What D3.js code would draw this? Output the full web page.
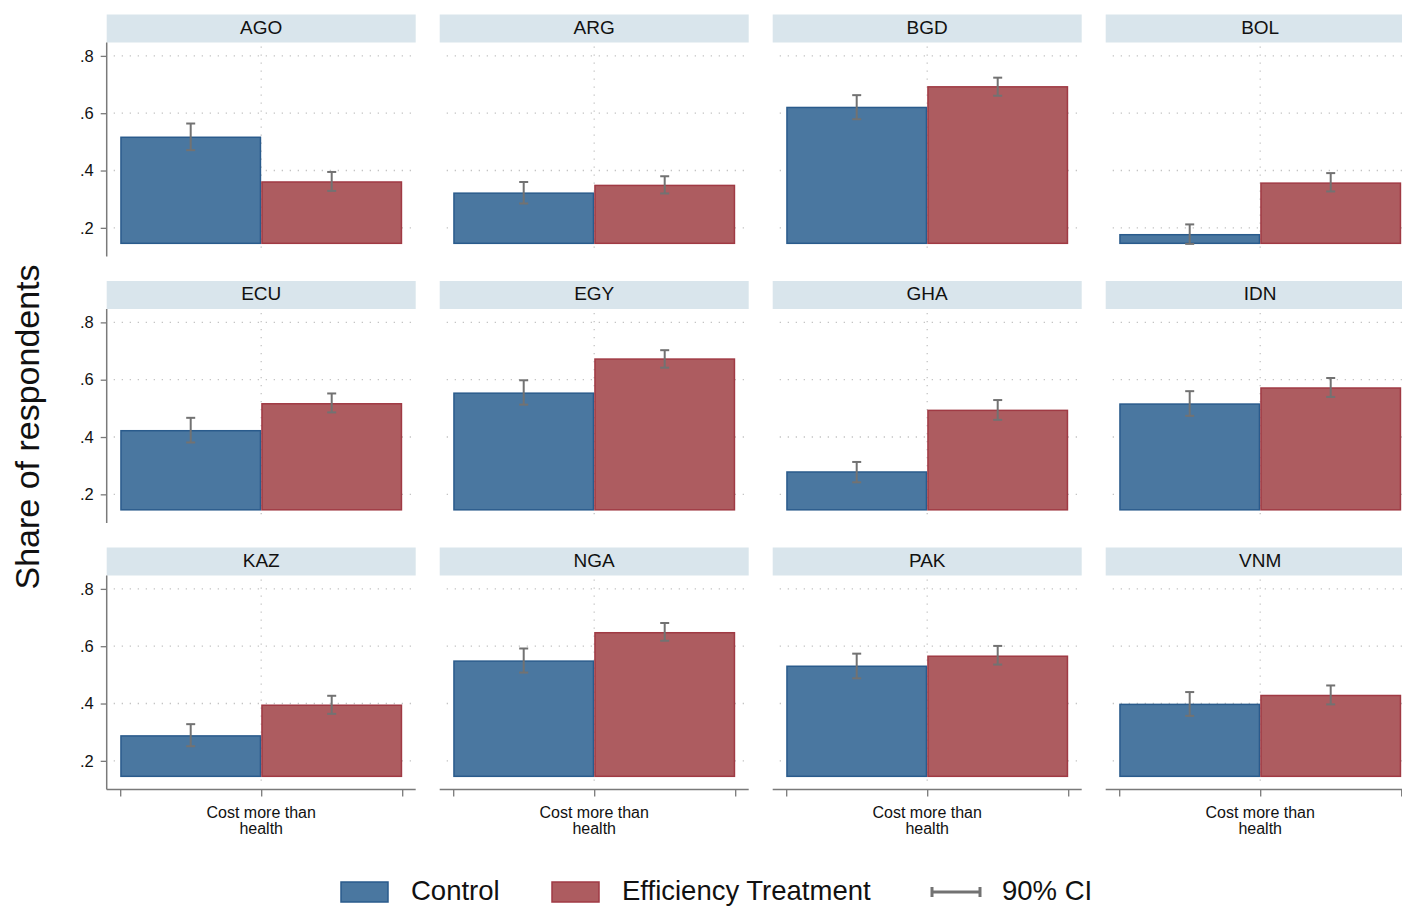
<!DOCTYPE html>
<html>
<head>
<meta charset="utf-8">
<script src="https://cdn.jsdelivr.net/npm/d3@7"></script>
<style>
  html, body { margin: 0; padding: 0; background: #ffffff; }
  svg { display: block; font-family: "Liberation Sans", Arial, Helvetica, sans-serif; }
</style>
</head>
<body>
<svg id="chart" width="1402" height="909"></svg>
<script>
// Countries, one panel each (4 columns x 3 rows)
const countries = ["AGO", "ARG", "BGD", "BOL", "ECU", "EGY", "GHA", "IDN", "KAZ", "NGA", "PAK", "VNM"];

// Share answering "Cost more than health": control group
const controlMean = [0.516, 0.321, 0.620, 0.176, 0.422, 0.553, 0.278, 0.515, 0.287, 0.548, 0.530, 0.397];
const controlLow  = [0.471, 0.285, 0.579, 0.144, 0.381, 0.513, 0.242, 0.474, 0.251, 0.508, 0.488, 0.357];
const controlHigh = [0.564, 0.360, 0.663, 0.212, 0.467, 0.598, 0.313, 0.560, 0.328, 0.592, 0.574, 0.440];

// Efficiency treatment group
const treatMean = [0.360, 0.348, 0.692, 0.356, 0.516, 0.672, 0.493, 0.571, 0.394, 0.647, 0.565, 0.428];
const treatLow  = [0.329, 0.320, 0.661, 0.327, 0.486, 0.642, 0.460, 0.540, 0.364, 0.619, 0.536, 0.397];
const treatHigh = [0.395, 0.380, 0.724, 0.391, 0.552, 0.703, 0.529, 0.606, 0.427, 0.681, 0.601, 0.463];

// Axis settings
const yTicks = [0.2, 0.4, 0.6, 0.8];
const yTickLabels = [".2", ".4", ".6", ".8"];
const yDomain = [0.1, 0.8467];
const barBase = 0.146;
const categoryLabel = ["Cost more than", "health"];
const seriesNames = ["Control", "Efficiency Treatment"];
const ciLabel = "90% CI";
const yTitle = "Share of respondents";

// Styling
const colors = {
  fill: ["#4a77a0", "#ad5c60"],
  stroke: ["#2a5b8c", "#a03a44"],
  ci: "#727272",
  axis: "#7a7a7a",
  grid: "#c4c4c4",
  strip: "#d9e5ec"
};

const svg = d3.select("#chart");

const nCols = 4;
const panelW = 309, stripH = 28, plotH = 214;
const colStep = 333, rowStep = 266.5;
const left0 = 106.7, top0 = 14.5;

countries.forEach((c, i) => {
  const col = i % nCols, row = Math.floor(i / nCols);
  const x0 = left0 + col * colStep;
  const yStrip = top0 + row * rowStep;
  const pTop = yStrip + stripH, pBot = pTop + plotH;

  const y = d3.scaleLinear().domain(yDomain).range([pBot, pTop]);
  const x = d3.scaleLinear().domain([0, 2]).range([x0 + 13.5, x0 + 295.5]);

  const g = svg.append("g");

  // header strip
  g.append("rect")
    .attr("x", x0).attr("y", yStrip).attr("width", panelW).attr("height", stripH)
    .attr("fill", colors.strip);
  g.append("text")
    .attr("x", x0 + panelW / 2).attr("y", yStrip + stripH / 2)
    .attr("text-anchor", "middle").attr("dominant-baseline", "middle")
    .attr("font-size", 19).attr("fill", "#111").text(c);

  // horizontal grid
  g.selectAll("line.hg").data(yTicks).enter().append("line")
    .attr("x1", x0 + 7).attr("x2", x0 + panelW - 4)
    .attr("y1", d => y(d)).attr("y2", d => y(d))
    .attr("stroke", colors.grid).attr("stroke-width", 1.3)
    .attr("stroke-dasharray", "1.3 6.7");

  // vertical grid at the category centre
  g.append("line")
    .attr("x1", x(1)).attr("x2", x(1))
    .attr("y1", pTop + 4).attr("y2", pBot - 2)
    .attr("stroke", colors.grid).attr("stroke-width", 1.3)
    .attr("stroke-dasharray", "1.3 6.7");

  // bars
  const means = [controlMean[i], treatMean[i]];
  const lows = [controlLow[i], treatLow[i]];
  const highs = [controlHigh[i], treatHigh[i]];

  g.selectAll("rect.bar").data(means).enter().append("rect")
    .attr("x", (d, k) => x(k) + 0.75)
    .attr("width", (d, k) => x(k + 1) - x(k) - 1.5)
    .attr("y", d => y(d))
    .attr("height", d => y(barBase) - y(d))
    .attr("fill", (d, k) => colors.fill[k])
    .attr("stroke", (d, k) => colors.stroke[k])
    .attr("stroke-width", 1.5);

  // confidence intervals
  const cx = k => (x(k) + x(k + 1)) / 2;
  [0, 1].forEach(k => {
    const eg = g.append("g").attr("stroke", colors.ci).attr("stroke-width", 2);
    eg.append("line").attr("x1", cx(k)).attr("x2", cx(k)).attr("y1", y(lows[k])).attr("y2", y(highs[k]));
    eg.append("line").attr("x1", cx(k) - 4.5).attr("x2", cx(k) + 4.5).attr("y1", y(lows[k])).attr("y2", y(lows[k]));
    eg.append("line").attr("x1", cx(k) - 4.5).attr("x2", cx(k) + 4.5).attr("y1", y(highs[k])).attr("y2", y(highs[k]));
  });

  // y axis on the first column
  if (col === 0) {
    const ya = g.append("g").attr("transform", `translate(${x0},0)`)
      .call(d3.axisLeft(y).tickValues(yTicks).tickFormat((d, j) => yTickLabels[j]).tickSize(6).tickPadding(7));
    ya.select(".domain").remove();
    ya.selectAll(".tick line").attr("stroke", colors.axis).attr("stroke-width", 1.3);
    ya.selectAll(".tick text").attr("font-size", 16.5).attr("fill", "#111")
      .attr("font-family", "'Liberation Sans', Arial, sans-serif");
    g.append("line").attr("x1", x0).attr("x2", x0).attr("y1", pTop).attr("y2", pBot)
      .attr("stroke", colors.axis).attr("stroke-width", 1.5);
  }

  // x axis on the bottom row
  if (row === 2) {
    const xa = g.append("g").attr("transform", `translate(0,${pBot})`)
      .call(d3.axisBottom(x).tickValues([0, 1, 2]).tickFormat("").tickSize(7).tickSizeOuter(0));
    xa.select(".domain").remove();
    xa.selectAll(".tick line").attr("stroke", colors.axis).attr("stroke-width", 1.3);
    g.append("line").attr("x1", x0).attr("x2", x0 + panelW).attr("y1", pBot).attr("y2", pBot)
      .attr("stroke", colors.axis).attr("stroke-width", 1.5);
    const t = g.append("text").attr("x", x(1)).attr("y", pBot + 28)
      .attr("text-anchor", "middle").attr("font-size", 16).attr("fill", "#111");
    categoryLabel.forEach((line, j) => {
      t.append("tspan").attr("x", x(1)).attr("dy", j === 0 ? 0 : 16).text(line);
    });
  }
});

// y-axis title
svg.append("text")
  .attr("transform", "translate(39,427) rotate(-90)")
  .attr("text-anchor", "middle")
  .attr("font-size", 34).attr("fill", "#111")
  .text(yTitle);

// legend
const lg = svg.append("g");
const legendY = 892;
const legendItems = [
  { type: "bar", k: 0, x: 341, tx: 411, label: seriesNames[0] },
  { type: "bar", k: 1, x: 552, tx: 622, label: seriesNames[1] },
  { type: "ci", x: 931, tx: 1002, label: ciLabel }
];
legendItems.forEach(it => {
  if (it.type === "bar") {
    lg.append("rect").attr("x", it.x).attr("y", legendY - 10).attr("width", 47).attr("height", 20)
      .attr("fill", colors.fill[it.k]).attr("stroke", colors.stroke[it.k]).attr("stroke-width", 1.5);
  } else {
    const cg = lg.append("g").attr("stroke", colors.ci).attr("stroke-width", 3);
    cg.append("line").attr("x1", it.x).attr("x2", it.x + 50).attr("y1", legendY).attr("y2", legendY);
    cg.append("line").attr("x1", it.x + 1).attr("x2", it.x + 1).attr("y1", legendY - 5).attr("y2", legendY + 5);
    cg.append("line").attr("x1", it.x + 49).attr("x2", it.x + 49).attr("y1", legendY - 5).attr("y2", legendY + 5);
  }
  lg.append("text").attr("x", it.tx).attr("y", legendY + 1)
    .attr("dominant-baseline", "middle").attr("font-size", 27.5).attr("fill", "#111")
    .text(it.label);
});
</script>
</body>
</html>
